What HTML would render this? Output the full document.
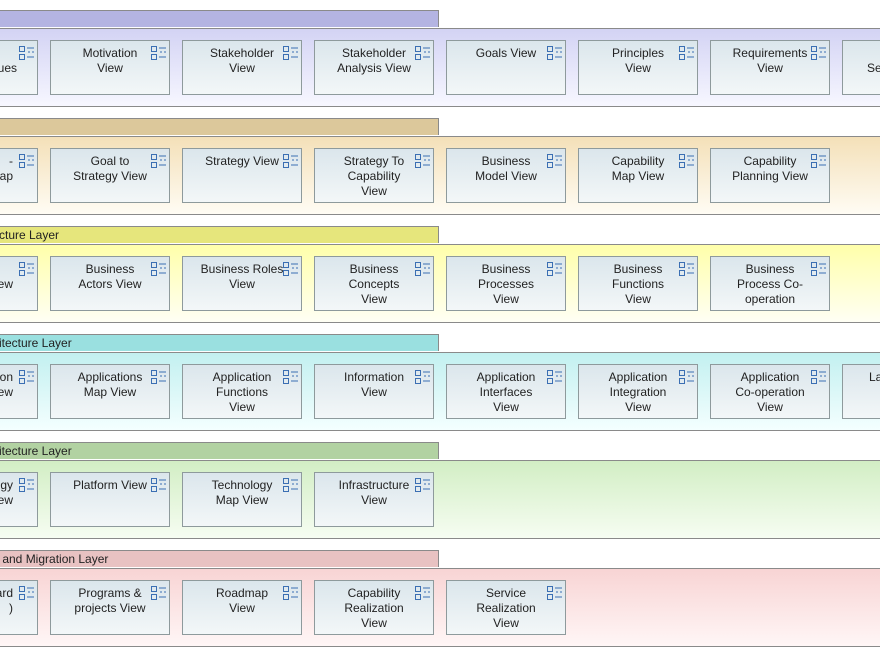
<!DOCTYPE html>
<html><head><meta charset="utf-8"><style>
body{margin:0;width:880px;height:657px;overflow:hidden;background:#fff;position:relative;font-family:"Liberation Sans",sans-serif;font-size:12px;color:#222}
.tab{position:absolute;left:-2px;width:441px;height:17px;border:1px solid #8a8a8a;border-bottom:none;box-sizing:border-box;line-height:17px;font-size:12px;white-space:nowrap;overflow:hidden}
.band{position:absolute;left:-2px;width:884px;height:79px;border:1px solid #8a8a8a;box-sizing:border-box}
.b{position:absolute;width:120px;height:55px;border:1px solid #8e9a9c;box-sizing:border-box;background:linear-gradient(#dbe6ec,#f3f7f8)}
.t{position:absolute;left:0;right:0;top:5px;text-align:center;line-height:15px}
.r{position:absolute;top:5px;line-height:15px;text-align:right;width:80px;right:auto}
.ic{position:absolute;left:100px;top:5px}
</style></head><body>
<svg width="0" height="0" style="position:absolute"><defs><g id="ic"><rect x="0.5" y="0.5" width="5" height="5" fill="none" stroke="#3b6fb3"/><rect x="0.5" y="8.5" width="5" height="5" fill="none" stroke="#3b6fb3"/><path d="M8 2h7M8 11h7M9 6h2M13 6h2" stroke="#3b6fb3"/></g></defs></svg>

<div class="tab" style="top:10px;background:#b4b4e2"></div>
<div class="band" style="top:28px;background:linear-gradient(#d3d3f4,#f7f7ff)"></div>
<div class="tab" style="top:118px;background:#dcc89b"></div>
<div class="band" style="top:136px;background:linear-gradient(#f4e0b8,#fffcf4)"></div>
<div class="tab" style="top:226px;background:#e6e67c">cture Layer</div>
<div class="band" style="top:244px;background:linear-gradient(#ffffaa,#fffff4)"></div>
<div class="tab" style="top:334px;background:#9ae0e0">itecture Layer</div>
<div class="band" style="top:352px;background:linear-gradient(#c2f0f0,#f4ffff)"></div>
<div class="tab" style="top:442px;background:#b2d2a2">itecture Layer</div>
<div class="band" style="top:460px;background:linear-gradient(#d2eec4,#f6fdf2)"></div>
<div class="tab" style="top:550px;background:#e8c2c2">&nbsp;and Migration Layer</div>
<div class="band" style="top:568px;background:linear-gradient(#f8d4d4,#fff6f6)"></div>

<div class="b" style="left:-82px;top:40px"><div class="r" style="left:18px"><br>ues</div><svg class="ic" width="17" height="15"><use href="#ic"/></svg></div>
<div class="b" style="left:50px;top:40px"><div class="t">Motivation<br>View</div><svg class="ic" width="17" height="15"><use href="#ic"/></svg></div>
<div class="b" style="left:182px;top:40px"><div class="t">Stakeholder<br>View</div><svg class="ic" width="17" height="15"><use href="#ic"/></svg></div>
<div class="b" style="left:314px;top:40px"><div class="t">Stakeholder<br>Analysis View</div><svg class="ic" width="17" height="15"><use href="#ic"/></svg></div>
<div class="b" style="left:446px;top:40px"><div class="t">Goals View</div><svg class="ic" width="17" height="15"><use href="#ic"/></svg></div>
<div class="b" style="left:578px;top:40px"><div class="t">Principles<br>View</div><svg class="ic" width="17" height="15"><use href="#ic"/></svg></div>
<div class="b" style="left:710px;top:40px"><div class="t">Requirements<br>View</div><svg class="ic" width="17" height="15"><use href="#ic"/></svg></div>
<div class="b" style="left:842px;top:40px"><div class="t" style="text-align:left;left:24px"><br>Se</div></div>

<div class="b" style="left:-82px;top:148px"><div class="r" style="left:14px">-<br>ap</div><svg class="ic" width="17" height="15"><use href="#ic"/></svg></div>
<div class="b" style="left:50px;top:148px"><div class="t">Goal to<br>Strategy View</div><svg class="ic" width="17" height="15"><use href="#ic"/></svg></div>
<div class="b" style="left:182px;top:148px"><div class="t">Strategy View</div><svg class="ic" width="17" height="15"><use href="#ic"/></svg></div>
<div class="b" style="left:314px;top:148px"><div class="t">Strategy To<br>Capability<br>View</div><svg class="ic" width="17" height="15"><use href="#ic"/></svg></div>
<div class="b" style="left:446px;top:148px"><div class="t">Business<br>Model View</div><svg class="ic" width="17" height="15"><use href="#ic"/></svg></div>
<div class="b" style="left:578px;top:148px"><div class="t">Capability<br>Map View</div><svg class="ic" width="17" height="15"><use href="#ic"/></svg></div>
<div class="b" style="left:710px;top:148px"><div class="t">Capability<br>Planning View</div><svg class="ic" width="17" height="15"><use href="#ic"/></svg></div>

<div class="b" style="left:-82px;top:256px"><div class="r" style="left:14px"><br>ew</div><svg class="ic" width="17" height="15"><use href="#ic"/></svg></div>
<div class="b" style="left:50px;top:256px"><div class="t">Business<br>Actors View</div><svg class="ic" width="17" height="15"><use href="#ic"/></svg></div>
<div class="b" style="left:182px;top:256px"><div class="t">Business Roles<br>View</div><svg class="ic" width="17" height="15"><use href="#ic"/></svg></div>
<div class="b" style="left:314px;top:256px"><div class="t">Business<br>Concepts<br>View</div><svg class="ic" width="17" height="15"><use href="#ic"/></svg></div>
<div class="b" style="left:446px;top:256px"><div class="t">Business<br>Processes<br>View</div><svg class="ic" width="17" height="15"><use href="#ic"/></svg></div>
<div class="b" style="left:578px;top:256px"><div class="t">Business<br>Functions<br>View</div><svg class="ic" width="17" height="15"><use href="#ic"/></svg></div>
<div class="b" style="left:710px;top:256px"><div class="t">Business<br>Process Co-<br>operation</div><svg class="ic" width="17" height="15"><use href="#ic"/></svg></div>

<div class="b" style="left:-82px;top:364px"><div class="r" style="left:14px">on<br>ew</div><svg class="ic" width="17" height="15"><use href="#ic"/></svg></div>
<div class="b" style="left:50px;top:364px"><div class="t">Applications<br>Map View</div><svg class="ic" width="17" height="15"><use href="#ic"/></svg></div>
<div class="b" style="left:182px;top:364px"><div class="t">Application<br>Functions<br>View</div><svg class="ic" width="17" height="15"><use href="#ic"/></svg></div>
<div class="b" style="left:314px;top:364px"><div class="t">Information<br>View</div><svg class="ic" width="17" height="15"><use href="#ic"/></svg></div>
<div class="b" style="left:446px;top:364px"><div class="t">Application<br>Interfaces<br>View</div><svg class="ic" width="17" height="15"><use href="#ic"/></svg></div>
<div class="b" style="left:578px;top:364px"><div class="t">Application<br>Integration<br>View</div><svg class="ic" width="17" height="15"><use href="#ic"/></svg></div>
<div class="b" style="left:710px;top:364px"><div class="t">Application<br>Co-operation<br>View</div><svg class="ic" width="17" height="15"><use href="#ic"/></svg></div>
<div class="b" style="left:842px;top:364px"><div class="t" style="text-align:left;left:26px">La</div></div>

<div class="b" style="left:-82px;top:472px"><div class="r" style="left:14px">gy<br>ew</div><svg class="ic" width="17" height="15"><use href="#ic"/></svg></div>
<div class="b" style="left:50px;top:472px"><div class="t">Platform View</div><svg class="ic" width="17" height="15"><use href="#ic"/></svg></div>
<div class="b" style="left:182px;top:472px"><div class="t">Technology<br>Map View</div><svg class="ic" width="17" height="15"><use href="#ic"/></svg></div>
<div class="b" style="left:314px;top:472px"><div class="t">Infrastructure<br>View</div><svg class="ic" width="17" height="15"><use href="#ic"/></svg></div>

<div class="b" style="left:-82px;top:580px"><div class="r" style="left:14px">ard<br>)</div><svg class="ic" width="17" height="15"><use href="#ic"/></svg></div>
<div class="b" style="left:50px;top:580px"><div class="t">Programs &amp;<br>projects View</div><svg class="ic" width="17" height="15"><use href="#ic"/></svg></div>
<div class="b" style="left:182px;top:580px"><div class="t">Roadmap<br>View</div><svg class="ic" width="17" height="15"><use href="#ic"/></svg></div>
<div class="b" style="left:314px;top:580px"><div class="t">Capability<br>Realization<br>View</div><svg class="ic" width="17" height="15"><use href="#ic"/></svg></div>
<div class="b" style="left:446px;top:580px"><div class="t">Service<br>Realization<br>View</div><svg class="ic" width="17" height="15"><use href="#ic"/></svg></div>
</body></html>
